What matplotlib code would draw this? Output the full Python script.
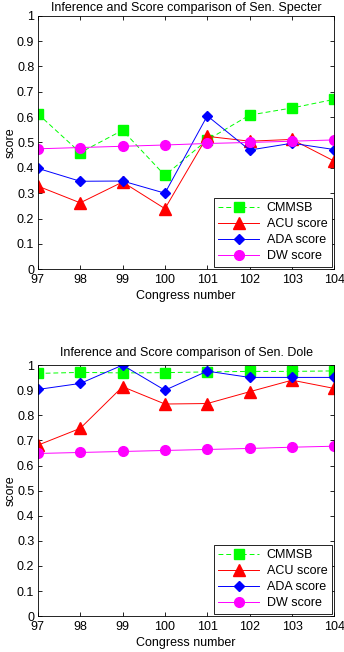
import matplotlib
matplotlib.use("Agg")
import matplotlib.pyplot as plt

plt.rcParams['font.family'] = ['Liberation Sans', 'DejaVu Sans']

congress = [97, 98, 99, 100, 101, 102, 103, 104]
legend_labels = ["CMMSB", "ACU score", "ADA score", "DW score"]

specter_cmmsb = [0.613, 0.46, 0.548, 0.37, 0.51, 0.608, 0.636, 0.67]
specter_acu = [0.328, 0.262, 0.344, 0.239, 0.524, 0.505, 0.512, 0.426]
specter_ada = [0.398, 0.347, 0.348, 0.30, 0.605, 0.47, 0.497, 0.472]
specter_dw = [0.475, 0.48, 0.485, 0.49, 0.496, 0.5, 0.505, 0.51]

dole_cmmsb = [0.967, 0.971, 0.969, 0.97, 0.973, 0.975, 0.975, 0.977]
dole_acu = [0.681, 0.748, 0.914, 0.845, 0.847, 0.894, 0.94, 0.907]
dole_ada = [0.903, 0.927, 1.0, 0.9, 0.976, 0.951, 0.951, 0.951]
dole_dw = [0.648, 0.652, 0.656, 0.66, 0.664, 0.668, 0.673, 0.677]

titles = ["Inference and Score comparison of Sen. Specter",
          "Inference and Score comparison of Sen. Dole"]

fig = plt.figure(figsize=(3.44, 6.52), dpi=100)
ax1 = fig.add_axes([0.110, 0.587, 0.862, 0.389])
ax2 = fig.add_axes([0.110, 0.055, 0.862, 0.385])

FS = 9

def draw(ax, cm, acu, ada, dw, title, tpad):
    ms = 7
    ax.plot(congress, cm, linestyle='--', color='#00ff00', marker='s', markersize=ms,
            markerfacecolor='#00ff00', markeredgecolor='#00ff00', linewidth=0.7,
            label=legend_labels[0], dashes=(5, 3))
    ax.plot(congress, acu, linestyle='-', color='#ff0000', marker='^', markersize=ms + 1,
            markerfacecolor='#ff0000', markeredgecolor='#ff0000', linewidth=0.7, label=legend_labels[1])
    ax.plot(congress, ada, linestyle='-', color='#0000ff', marker='D', markersize=ms - 1.5,
            markerfacecolor='#0000ff', markeredgecolor='#0000ff', linewidth=0.7, label=legend_labels[2])
    ax.plot(congress, dw, linestyle='-', color='#ff00ff', marker='o', markersize=ms,
            markerfacecolor='#ff00ff', markeredgecolor='#ff00ff', linewidth=0.7, label=legend_labels[3])
    ax.set_xlim(97, 104)
    ax.set_ylim(0, 1)
    ax.set_xticks(congress)
    ax.set_yticks([i / 10 for i in range(11)])
    ax.set_yticklabels(["0", "0.1", "0.2", "0.3", "0.4", "0.5", "0.6", "0.7", "0.8", "0.9", "1"])
    ax.tick_params(direction='in', top=True, right=True, labelsize=FS, length=3, width=0.6)
    ax.tick_params(axis='x', pad=3.5)
    ax.tick_params(axis='y', pad=2.5)
    for s in ax.spines.values():
        s.set_linewidth(0.6)
    ax.set_xlabel("Congress number", fontsize=FS, labelpad=3)
    ax.set_ylabel("score", fontsize=FS, labelpad=0.5)
    ax.set_title(title, fontsize=FS, pad=tpad)
    leg = ax.legend(loc='lower right', fontsize=FS, fancybox=False, framealpha=1,
                    edgecolor='black', borderpad=0.35, labelspacing=0.32, handlelength=3.3,
                    handletextpad=0.6, borderaxespad=0.2)
    leg.get_frame().set_linewidth(0.6)

draw(ax1, specter_cmmsb, specter_acu, specter_ada, specter_dw, titles[0], 3.5)
draw(ax2, dole_cmmsb, dole_acu, dole_ada, dole_dw, titles[1], 6.5)

fig.savefig("out.png", dpi=100, facecolor='white')
